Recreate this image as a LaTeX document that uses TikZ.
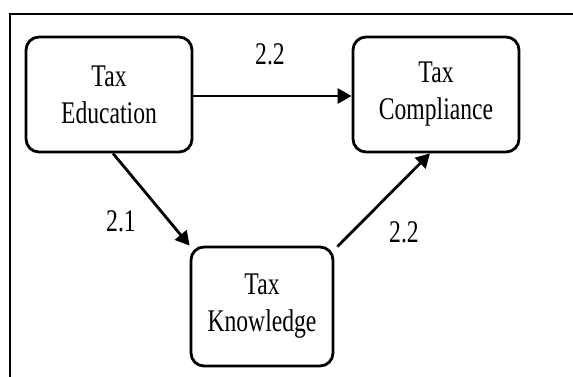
\documentclass[tikz,border=0pt]{standalone}
\usepackage{fontspec}
\setmainfont[FakeStretch=0.75]{Liberation Serif}
\usetikzlibrary{arrows.meta}
\begin{document}
\begin{tikzpicture}[x=1pt,y=-1pt,
  box/.style={draw=black,line width=2.8pt,rounded corners=13pt,align=center,
    font=\fontsize{31.5}{37}\selectfont,inner sep=0pt},
  lbl/.style={font=\fontsize{31.5}{37}\selectfont,inner sep=0pt},
  conn/.style={line width=2.8pt,-{Triangle[length=14pt,width=15pt]}}]
\useasboundingbox (0,0) rectangle (573,376);
\draw[line width=2.4pt] (10,390) -- (10,14) -- (590,14);
\node[box,minimum width=166pt,minimum height=115pt] (edu) at (109,94.5) {Tax\\Education};
\node[box,minimum width=166pt,minimum height=115pt] (comp) at (436,94.5) {Tax\\Compliance};
\node[box,minimum width=142pt,minimum height=119pt] (know) at (262,306.5) {Tax\\Knowledge};
\draw[conn] ([yshift=-1.5pt]edu.east) -- ([yshift=-1.5pt]comp.west);
\draw[conn] ([xshift=4pt]edu.south) -- (know.north west);
\draw[conn] ([xshift=3pt,yshift=-1pt]know.north east) -- ([xshift=-6pt]comp.south);
\node[lbl] (l1) at (270,54) {2.2};
\node[lbl] (l2) at (121,221) {2.1};
\node[lbl] (l3) at (404,232) {2.2};
\end{tikzpicture}
\end{document}
